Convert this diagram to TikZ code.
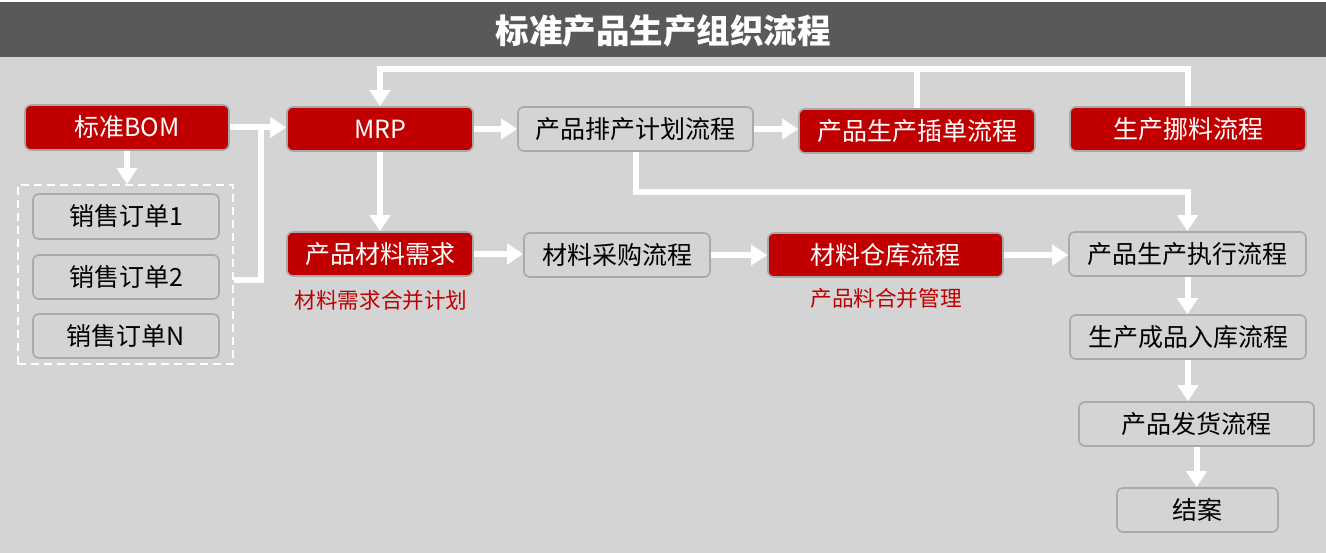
\documentclass[tikz,border=0pt]{standalone}
\usepackage{fontspec}
\setmainfont{Noto Sans CJK SC}
\usetikzlibrary{arrows.meta}
\definecolor{bgc}{HTML}{D4D4D4}
\definecolor{barc}{HTML}{595959}
\definecolor{redc}{HTML}{C00000}
\definecolor{edgec}{HTML}{A9A9A9}
\tikzset{
  basebox/.style={rounded corners=6pt, draw=edgec, line width=1.6pt, inner sep=0pt,
    font=\fontsize{25}{29}\selectfont},
  redbox/.style={basebox, fill=redc, text=white},
  graybox/.style={basebox, fill=bgc, text=black},
  flow/.style={draw=white, line width=6pt, -{Triangle[width=20pt,length=16pt]}},
  link/.style={draw=white, line width=6pt},
  note/.style={text=redc, font=\fontsize{21.6}{25}\selectfont, inner sep=0pt},
}
\begin{document}
\begin{tikzpicture}[x=1pt,y=-1pt]
\useasboundingbox (0,0) rectangle (1326,553);
\fill[bgc] (0,0) rectangle (1326,553);
\fill[white] (0,0) rectangle (1326,2);
\fill[barc] (0,2) rectangle (1326,57);
\node[text=white, font=\fontsize{33.5}{38}\selectfont\bfseries, inner sep=0pt] (title) at (663,31) {标准产品生产组织流程};

% boxes
\node[redbox, minimum width=204pt, minimum height=45pt] (bom) at (127,127.5) {标准BOM};
\node[redbox, minimum width=186pt, minimum height=44pt] (mrp) at (380,129) {MRP};
\node[draw=white, dashed, dash pattern=on 8pt off 5pt, line width=1.8pt, minimum width=215pt, minimum height=179pt, inner sep=0pt] (dash) at (125.5,274.5) {};
\node[graybox, minimum width=186pt, minimum height=45pt] (o1) at (126,216.5) {销售订单1};
\node[graybox, minimum width=186pt, minimum height=44pt] (o2) at (126,277) {销售订单2};
\node[graybox, minimum width=186pt, minimum height=44pt] (oN) at (126,336) {销售订单N};
\node[redbox, minimum width=186pt, minimum height=44pt] (need) at (380,254) {产品材料需求};
\node[note] (needlbl) at (381,300) {材料需求合并计划};
\node[graybox, minimum width=235pt, minimum height=44pt] (plan) at (635.5,129) {产品排产计划流程};
\node[graybox, minimum width=186pt, minimum height=44pt] (buy) at (617,255) {材料采购流程};
\node[redbox, minimum width=236pt, minimum height=44pt] (insert) at (917,131) {产品生产插单流程};
\node[redbox, minimum width=235pt, minimum height=44pt] (wh) at (885.5,255) {材料仓库流程};
\node[note] (whlbl) at (886,298) {产品料合并管理};
\node[redbox, minimum width=236pt, minimum height=44pt] (move) at (1188,129) {生产挪料流程};
\node[graybox, minimum width=237pt, minimum height=44pt] (exec) at (1187.5,254) {产品生产执行流程};
\node[graybox, minimum width=236pt, minimum height=44pt] (stock) at (1188,337) {生产成品入库流程};
\node[graybox, minimum width=235pt, minimum height=44pt] (ship) at (1196.5,424) {产品发货流程};
\node[graybox, minimum width=161pt, minimum height=44pt] (close) at (1197.5,510) {结案};

% helper coordinates
\coordinate (topy) at (0,69);
\coordinate (midy) at (0,192);
\coordinate (join) at (261,128);
\coordinate (ordy) at (0,280);

% connectors
\draw[flow] (bom.east) -- (bom.east -| mrp.west);
\draw[flow] (bom.south) -- (bom.south |- dash.north);
\draw[link] (dash.east |- ordy) -| (join);
\draw[flow] (insert.north) -- (insert.north |- topy) -| (mrp.north);
\draw[link] (move.north) -- (move.north |- topy) -- (insert.north |- topy);
\draw[flow] (mrp.east) -- (plan.west);
\draw[flow] (plan.east) -- (plan.east -| insert.west);
\draw[flow] (plan.south) -- (plan.south |- midy) -| (exec.north);
\draw[flow] (mrp.south) -- (need.north);
\draw[flow] (need.east) -- (need.east -| buy.west);
\draw[flow] (buy.east) -- (wh.west);
\draw[flow] (wh.east) -- (wh.east -| exec.west);
\draw[flow] (exec.south) -- (exec.south |- stock.north);
\draw[flow] (stock.south) -- (stock.south |- ship.north);
\draw[flow] (ship.south) -- (ship.south |- close.north);
\end{tikzpicture}
\end{document}
